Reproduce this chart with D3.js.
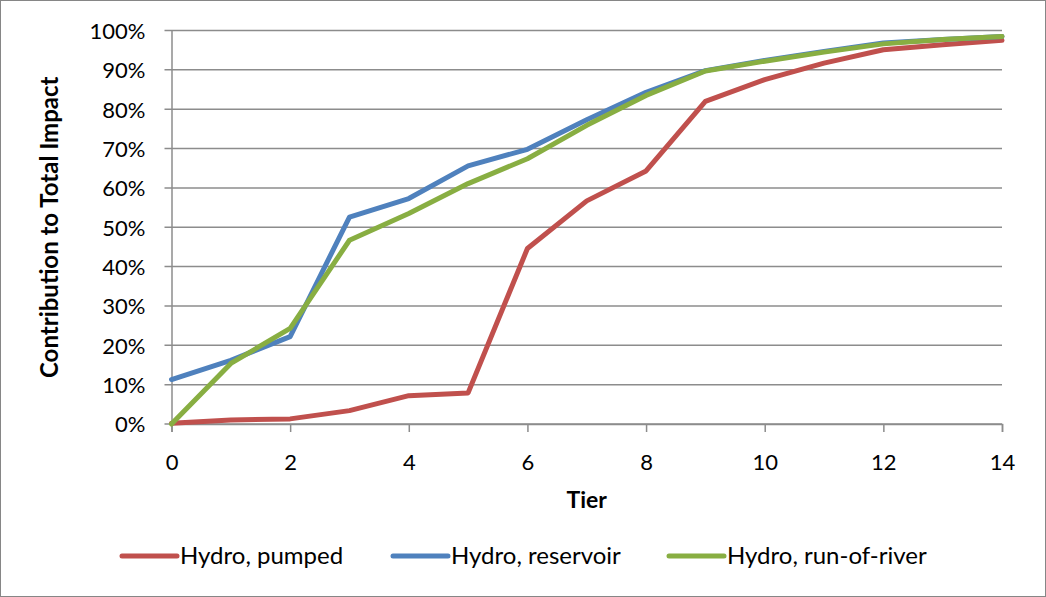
<!DOCTYPE html>
<head>
  <meta charset="utf-8">
  <title>Contribution to Total Impact</title>
  <style>
    body { margin: 0; background: #fff; }
    svg text { font-family: Lato, "Open Sans", sans-serif; fill: #000; }
  </style>
</head>
<body>
  <div id="chart"></div>
  <script src="https://d3js.org/d3.v7.min.js"></script>
  <script>
    // tiers 0..14
    var tiers = d3.range(0, 15);
    var pumped    = [0.2, 1.0, 1.3, 3.4, 7.2, 7.9, 44.6, 56.7, 64.3, 82.0, 87.5, 91.7, 95.1, 96.4, 97.5];
    var reservoir = [11.3, 16.2, 22.2, 52.6, 57.3, 65.6, 69.8, 77.3, 84.3, 89.8, 92.4, 94.7, 96.8, 97.7, 98.5];
    var runRiver  = [0.0, 15.4, 24.3, 46.7, 53.5, 61.1, 67.4, 75.9, 83.5, 89.7, 92.2, 94.5, 96.6, 97.7, 98.5];
    var seriesNames = ["Hydro, pumped", "Hydro, reservoir", "Hydro, run-of-river"];
    var seriesColors = ["#C0504D", "#4F81BD", "#88AE42"];
    var xTicks = [0, 2, 4, 6, 8, 10, 12, 14];
    var yTicks = d3.range(0, 101, 10);

    var width = 1046, height = 597;
    var plotLeft = 171.5, plotRight = 1002, plotTop = 30.5, plotBottom = 424;

    var svg = d3.select("#chart").append("svg")
      .attr("width", width)
      .attr("height", height);

    svg.append("rect")
      .attr("x", 0.5).attr("y", 0.5)
      .attr("width", width - 1).attr("height", height - 1)
      .attr("fill", "#fff")
      .attr("stroke", "#868686");

    var x = d3.scaleLinear().domain([0, 14]).range([plotLeft, plotRight]);
    var y = d3.scaleLinear().domain([0, 100]).range([plotBottom, plotTop]);

    // gridlines
    svg.append("g")
      .selectAll("line")
      .data(yTicks)
      .enter().append("line")
        .attr("x1", plotLeft - 7).attr("x2", plotRight)
        .attr("y1", d => y(d)).attr("y2", d => y(d))
        .attr("stroke", "#8c8c8c")
        .attr("stroke-width", 1.5);

    // y axis
    var yAxis = svg.append("g")
      .attr("transform", "translate(" + plotLeft + ",0)")
      .call(d3.axisLeft(y).tickValues(yTicks).tickSize(0).tickPadding(26)
        .tickFormat(d => d + "%"));
    yAxis.select(".domain").attr("stroke", "#8c8c8c").attr("stroke-width", 1.5);
    yAxis.selectAll("text").style("font-size", "22px").attr("dy", "0.36em");

    // x axis
    var xAxis = svg.append("g")
      .attr("transform", "translate(0," + plotBottom + ")")
      .call(d3.axisBottom(x).tickValues(xTicks).tickSize(8).tickPadding(22));
    xAxis.select(".domain").attr("stroke", "#8c8c8c").attr("stroke-width", 1.5);
    xAxis.selectAll(".tick line").attr("stroke", "#8c8c8c").attr("stroke-width", 1.5);
    xAxis.selectAll("text").style("font-size", "22px");

    // axis titles
    svg.append("text")
      .attr("x", (plotLeft + plotRight) / 2).attr("y", 508)
      .attr("text-anchor", "middle")
      .style("font-size", "23px").style("font-weight", "bold")
      .text("Tier");

    svg.append("text")
      .attr("transform", "translate(58," + ((plotTop + plotBottom) / 2) + ") rotate(-90)")
      .attr("text-anchor", "middle")
      .style("font-size", "24px").style("font-weight", "bold")
      .text("Contribution to Total Impact");

    var line = d3.line()
      .x((d, i) => x(tiers[i]))
      .y(d => y(d));

    var allSeries = [pumped, reservoir, runRiver];
    svg.append("g")
      .selectAll("path")
      .data(allSeries)
      .enter().append("path")
        .attr("d", line)
        .attr("fill", "none")
        .attr("stroke", (d, i) => seriesColors[i])
        .attr("stroke-width", 5)
        .attr("stroke-linejoin", "round")
        .attr("stroke-linecap", "round");

    // legend
    var legendX = [122, 393, 669];
    var legend = svg.append("g")
      .selectAll("g")
      .data(seriesNames)
      .enter().append("g")
        .attr("transform", (d, i) => "translate(" + legendX[i] + ",556)");
    legend.append("line")
      .attr("x1", 0).attr("x2", 55)
      .attr("stroke", (d, i) => seriesColors[i])
      .attr("stroke-width", 5)
      .attr("stroke-linecap", "round");
    legend.append("text")
      .attr("x", 58).attr("dy", "0.35em")
      .style("font-size", "24px")
      .text(d => d);
  </script>
</body>
